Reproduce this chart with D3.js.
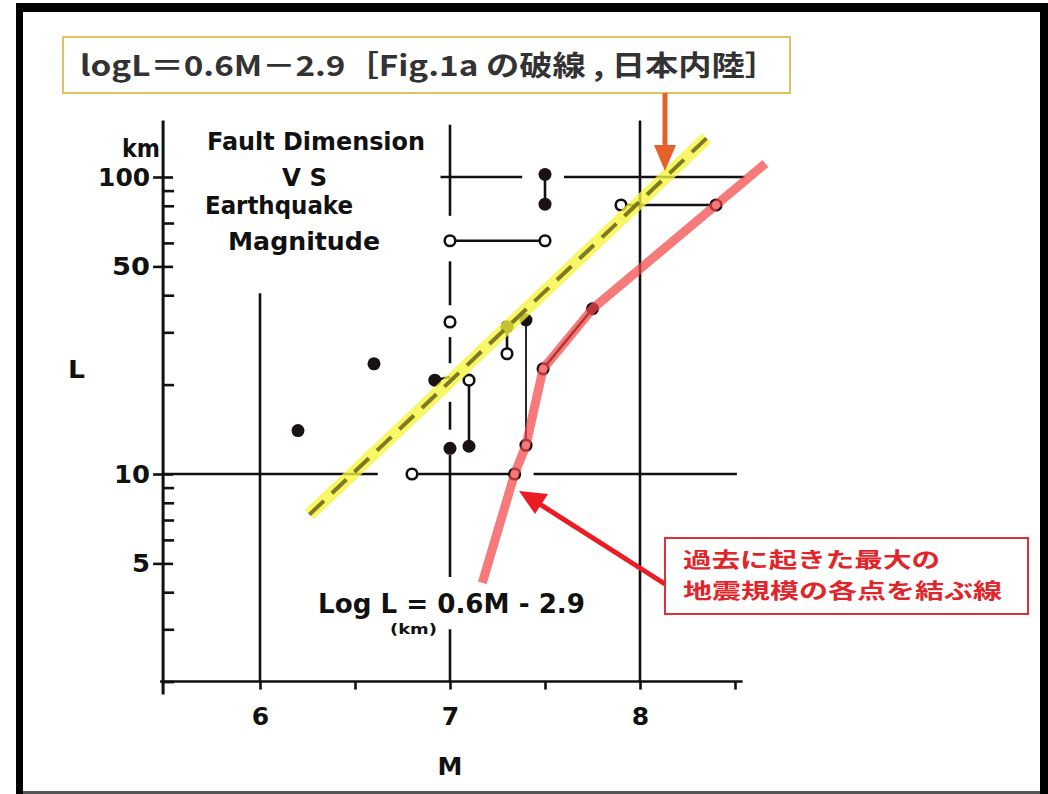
<!DOCTYPE html>
<html><head><meta charset="utf-8">
<script src="https://cdn.jsdelivr.net/npm/d3@7"></script>
<style>body{margin:0;background:#fff}svg{display:block}</style>
</head><body>
<svg id="c" width="1048" height="794"></svg>
<script>
// ---- data ----
const xTicks = [6, 6.5, 7, 7.5, 8, 8.5];
const xLabels = [6, 7, 8];
const yMajor = [5, 10, 50, 100];
const yMinor = [2, 3, 4, 6, 7, 8, 9, 20, 30, 40, 60, 70, 80, 90];
const filledM = [6.2, 6.6, 6.92, 7.0, 7.1, 7.5, 7.5, 7.3, 7.4, 7.75];
const filledL = [14, 23.5, 20.7, 12.2, 12.4, 102, 81, 31.3, 33, 36];
const openM = [7.0, 7.5, 7.0, 6.8, 7.1, 7.3, 7.9, 7.34, 7.4, 7.49, 8.4];
const openL = [61, 61, 32.5, 10, 20.7, 25.4, 80.5, 10, 12.5, 22.6, 80.5];
const maxLineM = [7.17, 7.34, 7.4, 7.49, 7.75, 8.4, 8.66];
const maxLineL = [4.3, 10, 12.5, 22.6, 36, 80.5, 111];
const fitLineM = [6.26, 8.35];
const fitLineL = [7.3, 135];
// vertical segments: [M, Lbottom, Ltop]
const vSegs = [[6, 2, 40.6], [8, 2, 155],
  [7, 74, 150], [7, 37, 52], [7, 23.6, 28.9], [7, 14.1, 17.5], [7, 4.5, 11.6], [7, 2, 3.0],
  [7.1, 12.4, 20.7], [7.5, 81, 102], [7.3, 25.4, 31.3]];
const vThin = [[7.4, 12.5, 33]];
// horizontal segments: [L, Mleft, Mright]
const hSegs = [[100, 6.95, 7.38], [100, 7.6, 8.55],
  [10, 5.49, 6.62], [10, 6.8, 7.34], [10, 7.44, 8.51],
  [61, 7.0, 7.5], [80.5, 7.9, 8.4]];
const shortLinks = [[[6.92, 20.7], [7.0, 21.2]], [[7.49, 22.6], [7.75, 36]]];

const titleText = "logL＝0.6M－2.9［Fig.1a の破線 , 日本内陸］";
const noteLines = ["過去に起きた最大の", "地震規模の各点を結ぶ線"];
const chartTitle = ["Fault Dimension", "V S", "Earthquake", "Magnitude"];

// ---- drawing ----
const svg = d3.select("#c");
svg.append("rect").attr("width", 1048).attr("height", 794).attr("fill", "#fff");
svg.append("rect").attr("x", 16).attr("y", 3).attr("width", 1032).attr("height", 791).attr("fill", "#000");
svg.append("rect").attr("x", 23).attr("y", 12).attr("width", 1017).attr("height", 779).attr("fill", "#fff");
svg.append("rect").attr("x", 23).attr("y", 791).attr("width", 1017).attr("height", 3).attr("fill", "#555");

const x = d3.scaleLinear().domain([6, 8]).range([260, 640]);
const y = d3.scaleLog().domain([10, 100]).range([474, 177]);
const x0 = x(5.49), y0 = y(2);
const ink = "#111";
const FONT = "'DejaVu Sans', sans-serif";

const g = svg.append("g");

// axes
g.append("line").attr("x1", x0).attr("x2", x0).attr("y1", y(155)).attr("y2", y0 + 13)
  .attr("stroke", ink).attr("stroke-width", 3);
g.append("line").attr("x1", x0 - 3).attr("x2", x(8.54)).attr("y1", y0).attr("y2", y0)
  .attr("stroke", ink).attr("stroke-width", 2.5);

const minorAx = g.append("g").attr("transform", `translate(${x0},0)`)
  .call(d3.axisRight(y).tickValues(yMinor).tickSize(11).tickFormat(""));
const majorR = g.append("g").attr("transform", `translate(${x0},0)`)
  .call(d3.axisRight(y).tickValues(yMajor).tickSize(10).tickFormat(""));
const majorL = g.append("g").attr("transform", `translate(${x0},0)`)
  .call(d3.axisLeft(y).tickValues(yMajor).tickSize(10).tickPadding(3).tickFormat(d3.format("d")));
const xAx = g.append("g").attr("transform", `translate(0,${y0})`)
  .call(d3.axisBottom(x).tickValues(xTicks).tickSize(8).tickPadding(18)
    .tickFormat(d => xLabels.includes(d) ? d : ""));
[minorAx, majorR, majorL, xAx].forEach(a => {
  a.select(".domain").remove();
  a.selectAll(".tick line").attr("stroke", ink).attr("stroke-width", 2.6);
  a.selectAll(".tick text").attr("fill", ink).style("font-family", FONT)
    .style("font-weight", "bold").style("font-size", "25px");
});
majorL.selectAll(".tick text").each(function (d) {
  const w = { 100: 52, 50: 38, 10: 36, 5: 18 }[d];
  d3.select(this).attr("textLength", w).attr("lengthAdjust", "spacingAndGlyphs");
});

// grid / connector segments
g.selectAll(".vs").data(vSegs).join("line")
  .attr("x1", d => x(d[0])).attr("x2", d => x(d[0]))
  .attr("y1", d => y(d[1])).attr("y2", d => y(d[2]))
  .attr("stroke", ink).attr("stroke-width", 2.6);
g.selectAll(".vt").data(vThin).join("line")
  .attr("x1", d => x(d[0])).attr("x2", d => x(d[0]))
  .attr("y1", d => y(d[1])).attr("y2", d => y(d[2]))
  .attr("stroke", ink).attr("stroke-width", 1.8);
g.selectAll(".hs").data(hSegs).join("line")
  .attr("x1", d => x(d[1])).attr("x2", d => x(d[2]))
  .attr("y1", d => y(d[0])).attr("y2", d => y(d[0]))
  .attr("stroke", ink).attr("stroke-width", 2.6);
g.selectAll(".sl").data(shortLinks).join("line")
  .attr("x1", d => x(d[0][0])).attr("x2", d => x(d[1][0]))
  .attr("y1", d => y(d[0][1])).attr("y2", d => y(d[1][1]))
  .attr("stroke", ink).attr("stroke-width", 2.6);

// points
g.selectAll(".fp").data(filledM.map((m, i) => [m, filledL[i]])).join("circle")
  .attr("cx", d => x(d[0])).attr("cy", d => y(d[1])).attr("r", 6.5).attr("fill", "#1a1212");
g.selectAll(".op").data(openM.map((m, i) => [m, openL[i]])).join("circle")
  .attr("cx", d => x(d[0])).attr("cy", d => y(d[1])).attr("r", 5.3)
  .attr("fill", "#fff").attr("stroke", ink).attr("stroke-width", 2.6);

// highlighted lines
const line = d3.line().x(d => x(d[0])).y(d => y(d[1]));
g.append("path").datum(maxLineM.map((m, i) => [m, maxLineL[i]]))
  .attr("d", line).attr("fill", "none").attr("stroke", "rgb(243,70,70)")
  .attr("stroke-opacity", 0.72).attr("stroke-width", 9).attr("stroke-linejoin", "round");
const fit = fitLineM.map((m, i) => [m, fitLineL[i]]);
g.append("path").datum(fit).attr("d", line).attr("fill", "none")
  .attr("stroke", "rgb(245,245,60)").attr("stroke-opacity", 0.78).attr("stroke-width", 13);
g.append("path").datum(fit).attr("d", line).attr("fill", "none")
  .attr("stroke", "#7d7a22").attr("stroke-width", 4).attr("stroke-dasharray", "20,11");

// chart texts
const txt = (s, xx, yy, size, opts = {}) => {
  const t = svg.append("text").attr("x", xx).attr("y", yy).text(s)
    .style("font-family", opts.font || FONT).style("font-weight", "bold")
    .style("font-size", size + "px").attr("fill", opts.fill || ink)
    .attr("text-anchor", opts.anchor || "start");
  if (opts.w) t.attr("textLength", opts.w).attr("lengthAdjust", "spacingAndGlyphs");
  return t;
};
txt(chartTitle[0], 207, 150, 24, { w: 218 });
txt(chartTitle[1], 282, 186, 24, { w: 45 });
txt(chartTitle[2], 205, 214, 24, { w: 148 });
txt(chartTitle[3], 228, 250, 24, { w: 152 });
txt("km", 122, 157, 24, { w: 38 });
txt("L", 68, 378, 25, { w: 17 });
txt("M", 450, 775, 25, { anchor: "middle" });
txt("Log L = 0.6M - 2.9", 318, 613, 27, { w: 267 });
txt("(km)", 390, 634, 14, { w: 47 });

// title box
svg.append("rect").attr("x", 63).attr("y", 37).attr("width", 727).attr("height", 56)
  .attr("fill", "#fff").attr("stroke", "#e0c262").attr("stroke-width", 2);
txt(titleText, 80, 76, 28, { w: 698, font: "'Noto Sans CJK JP', sans-serif", fill: "#333" });

// orange arrow
svg.append("line").attr("x1", 665).attr("x2", 665).attr("y1", 93).attr("y2", 148)
  .attr("stroke", "#e5602a").attr("stroke-width", 5);
svg.append("path").attr("d", "M654,145 L676,145 L665,171 Z").attr("fill", "#e5602a");

// annotation box + red arrow
svg.append("rect").attr("x", 665).attr("y", 538).attr("width", 363).attr("height", 76)
  .attr("fill", "#fff").attr("stroke", "#d83438").attr("stroke-width", 2);
txt(noteLines[0], 683, 567, 21, { w: 257, font: "'Noto Sans CJK JP', sans-serif", fill: "#e0262a" });
txt(noteLines[1], 683, 598, 21, { w: 319, font: "'Noto Sans CJK JP', sans-serif", fill: "#e0262a" });
svg.append("line").attr("x1", 665).attr("y1", 584).attr("x2", 538).attr("y2", 503)
  .attr("stroke", "#ec1c24").attr("stroke-width", 5);
svg.append("path").attr("d", "M519,491 L548,494 L535,514 Z").attr("fill", "#ec1c24");
</script>
</body></html>
